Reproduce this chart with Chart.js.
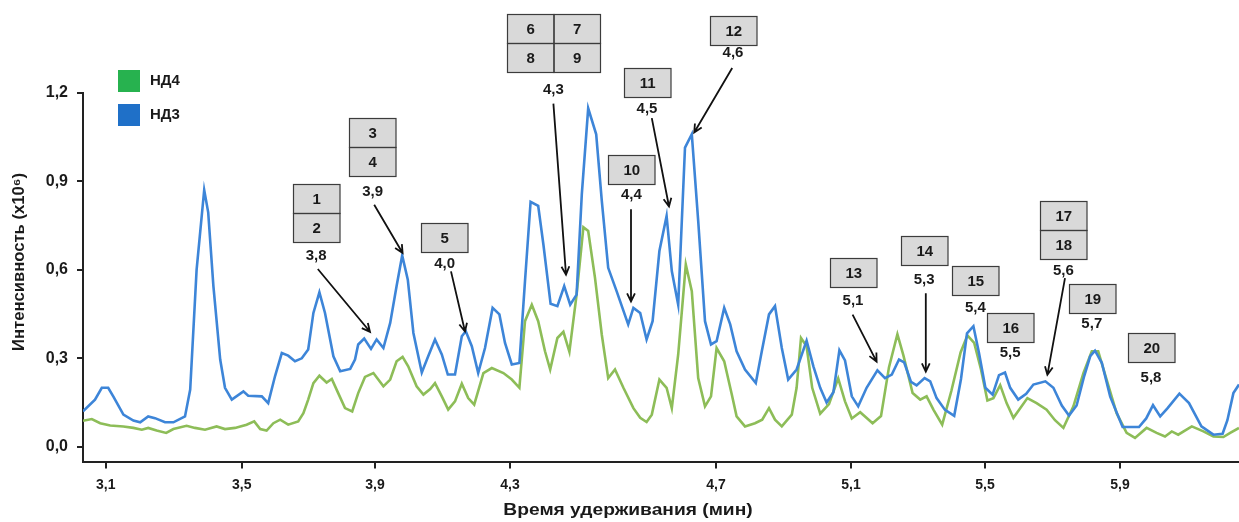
<!DOCTYPE html>
<html lang="ru">
<head>
<meta charset="UTF-8" />
<title>НД3 / НД4</title>
<script src="https://cdn.jsdelivr.net/npm/chart.js"></script>
<style>
  html, body { margin: 0; padding: 0; background: #fff; }
</style>
</head>
<body>
<canvas id="chrom" width="1239" height="522"></canvas>
<script>
  // traces: [scan, intensity x10^6]
  const nd3 = [[0,0.12],[3,0.16],[4.7,0.20],[6.3,0.20],[7.6,0.17],[10.1,0.109],[12.6,0.089],[14.3,0.083],[16.3,0.103],[18,0.097],
    [20.5,0.083],[22.6,0.083],[25.5,0.103],[26.8,0.194],[28.4,0.60],[30.3,0.871],[31.3,0.795],[32.6,0.545],[34.3,0.296],[35.5,0.20],
    [37.2,0.16],[40.1,0.188],[41.3,0.173],[44.7,0.171],[46.3,0.148],[48,0.239],[49.7,0.318],[51.3,0.309],[53,0.29],[54.7,0.30],
    [56.3,0.33],[57.6,0.454],[59.1,0.524],[60.5,0.454],[62.6,0.307],[64.3,0.256],[66.8,0.264],[68,0.296],[68.8,0.347],[70.3,0.367],
    [72,0.332],[73.4,0.364],[75.1,0.335],[76.8,0.42],[78.4,0.545],[79.8,0.649],[81.2,0.567],[82.6,0.386],[84.7,0.252],[86.3,0.307],
    [88,0.364],[89.7,0.313],[91.2,0.245],[93,0.245],[94.7,0.375],[95.7,0.392],[97.2,0.341],[98.8,0.25],[100.5,0.335],[102.4,0.471],
    [104.1,0.449],[105.5,0.352],[107.2,0.279],[109.1,0.284],[110.5,0.562],[111.9,0.831],[113.8,0.817],[115.1,0.686],[116.9,0.485],[118.6,0.477],
    [120.3,0.545],[121.8,0.482],[123.4,0.516],[124.7,0.856],[126.3,1.148],[128.3,1.06],[129.7,0.834],[131.3,0.607],[133.4,0.528],[136.3,0.415],
    [137.6,0.471],[139.3,0.454],[140.9,0.364],[142.4,0.426],[144.1,0.664],[145.9,0.783],[147.2,0.596],[148.8,0.482],[150.5,1.015],[152.2,1.06],
    [153.8,0.766],[155.5,0.426],[157,0.347],[158.4,0.358],[160.3,0.471],[161.8,0.415],[163.4,0.324],[165.5,0.262],[168.2,0.216],[169.7,0.324],
    [171.5,0.449],[173,0.477],[174.7,0.335],[176.3,0.228],[178.4,0.262],[180.9,0.36],[182.6,0.273],[184.3,0.20],[185.9,0.15],[187.6,0.185],
    [189.1,0.327],[190.5,0.293],[192.2,0.171],[193.8,0.137],[195.9,0.20],[198.6,0.259],[200.5,0.233],[202.2,0.245],[204,0.296],[205.3,0.286],
    [207,0.22],[208.4,0.208],[210.4,0.233],[211.8,0.222],[213.4,0.165],[215.5,0.125],[217.8,0.105],[219.5,0.23],[221,0.385],[222.6,0.409],
    [224,0.318],[225.6,0.2],[227.4,0.177],[229,0.243],[230.5,0.252],[231.8,0.2],[233.8,0.16],[235.8,0.18],[237.6,0.211],[240.6,0.222],
    [242.6,0.2],[244.7,0.14],[246.5,0.106],[248.4,0.14],[250.3,0.24],[251.8,0.307],[253,0.326],[254.7,0.285],[256.8,0.17],[259.9,0.067],
    [264,0.067],[265.8,0.096],[267.5,0.141],[269.3,0.103],[271.1,0.13],[274.1,0.18],[276.5,0.148],[279.6,0.069],[282.6,0.041],[284.9,0.044],
    [286.1,0.09],[287.6,0.182],[289,0.211]];

  const nd4 = [[0,0.088],[2.2,0.094],[4.3,0.08],[6.8,0.072],[10.1,0.069],[12.6,0.064],[14.7,0.058],[16.3,0.064],[18.4,0.055],[20.8,0.047],
    [22.6,0.06],[25.9,0.071],[28,0.064],[30.5,0.058],[33.4,0.069],[35.5,0.06],[38,0.064],[40.9,0.075],[42.8,0.086],[44.3,0.06],
    [45.9,0.055],[47.6,0.08],[49.3,0.092],[51.3,0.075],[53.8,0.086],[55.1,0.114],[56.3,0.16],[57.6,0.216],[59.1,0.241],[60.9,0.218],
    [62.2,0.23],[63.8,0.182],[65.5,0.131],[67.3,0.12],[68.8,0.182],[70.5,0.237],[72.6,0.25],[75.1,0.205],[76.8,0.228],[78.4,0.29],
    [79.9,0.305],[81.3,0.273],[83.4,0.205],[85.1,0.177],[86.8,0.196],[88,0.216],[89.7,0.171],[91.3,0.126],[93,0.154],[94.7,0.214],
    [96.3,0.165],[97.8,0.143],[100.1,0.25],[102.2,0.267],[105.1,0.25],[107.2,0.228],[109.1,0.2],[110.5,0.426],[112.2,0.482],[113.8,0.426],
    [115.5,0.324],[116.8,0.262],[118.6,0.369],[120.1,0.39],[121.6,0.322],[123.4,0.516],[125.1,0.745],[126.3,0.732],[128,0.573],[129.7,0.38],
    [131.3,0.233],[133,0.262],[135.1,0.2],[137.6,0.131],[139.3,0.098],[140.9,0.084],[142.2,0.109],[144.1,0.228],[145.9,0.2],[147.2,0.131],
    [148.8,0.313],[150.7,0.618],[152.2,0.528],[153.8,0.233],[155.5,0.137],[157,0.171],[158.4,0.335],[160.3,0.29],[162.2,0.177],[163.4,0.103],
    [165.5,0.069],[168,0.08],[169.8,0.092],[171.5,0.131],[173,0.092],[174.7,0.069],[177.2,0.109],[178.4,0.2],[179.5,0.369],[180.9,0.341],
    [182.3,0.2],[184.3,0.112],[186.5,0.145],[188.8,0.232],[190.5,0.154],[192.2,0.096],[194.3,0.117],[197.4,0.08],[199.5,0.104],[201.5,0.27],
    [203.6,0.382],[205.1,0.31],[207.4,0.182],[209.3,0.16],[210.9,0.171],[212.6,0.126],[214.8,0.075],[217.1,0.19],[219.4,0.32],[221.1,0.378],
    [222.8,0.352],[224.5,0.262],[226.1,0.157],[227.6,0.165],[229.3,0.209],[230.9,0.148],[232.6,0.098],[236.1,0.165],[238.4,0.148],[240.9,0.126],
    [243,0.09],[245.1,0.064],[247.6,0.137],[250.1,0.25],[252.2,0.324],[253.8,0.324],[255.9,0.228],[258.4,0.114],[260.9,0.047],[263,0.03],
    [265.9,0.064],[268.4,0.047],[270.5,0.035],[272.2,0.052],[273.8,0.041],[277.2,0.069],[280.1,0.052],[282.6,0.035],[285.1,0.033],[286.8,0.047],
    [289,0.064]];

  // axis ticks (retention time labels sit at these scans)
  const xTickScan = [5.7, 39.7, 73, 106.75, 158.25, 192, 225.5, 259.25];
  const xTickLabels = ['3,1', '3,5', '3,9', '4,3', '4,7', '5,1', '5,5', '5,9'];
  const yTickValues = [0, 0.3, 0.6, 0.9, 1.2];
  const yTickLabels = ['0,0', '0,3', '0,6', '0,9', '1,2'];

  // peak numbers (rows of cells) and their retention times
  const peakIds = [
    [['1'], ['2']], [['3'], ['4']], [['5']], [['6', '7'], ['8', '9']], [['10']], [['11']], [['12']],
    [['13']], [['14']], [['15']], [['16']], [['17'], ['18']], [['19']], [['20']]
  ];
  const peakTimes = ['3,8', '3,9', '4,0', '4,3', '4,4', '4,5', '4,6', '5,1', '5,3', '5,4', '5,5', '5,6', '5,7', '5,8'];

  // where each peak label goes, in scan / intensity units
  const peakPlaces = [
    { x: 58.3, top: 0.892, cap: 0.648, arrow: [58.7, 0.603, 71.75, 0.39] },
    { x: 72.4, top: 1.114, cap: 0.866, arrow: [72.8, 0.821, 79.9, 0.657] },
    { x: 90.4, top: 0.758, cap: 0.621, arrow: [92, 0.595, 95.5, 0.391] },
    { x: 117.6, top: 1.468, cap: 1.211, arrow: [117.6, 1.164, 120.75, 0.584] },
    { x: 137.1, top: 0.99, cap: 0.855, arrow: [137, 0.806, 137, 0.493] },
    { x: 141, top: 1.285, cap: 1.146, arrow: [142.2, 1.115, 146.5, 0.815] },
    { x: 162.5, top: 1.462, cap: 1.336, arrow: [162.3, 1.285, 152.8, 1.066] },
    { x: 192.5, top: 0.64, cap: 0.496, arrow: [192.4, 0.448, 198.4, 0.289] },
    { x: 210.3, top: 0.716, cap: 0.567, arrow: [210.7, 0.521, 210.7, 0.255] },
    { x: 223.1, top: 0.614, cap: 0.471 },
    { x: 231.8, top: 0.454, cap: 0.318 },
    { x: 245.1, top: 0.835, cap: 0.595, arrow: [245.5, 0.572, 241.1, 0.244] },
    { x: 252.2, top: 0.552, cap: 0.417 },
    { x: 267, top: 0.386, cap: 0.235 }
  ];

  const FONT = '"Liberation Sans", Arial, sans-serif';
  const INK = '#1a1a1a';
  const CELL_W = 46.5, CELL_H = 29;

  function drawArrow(ctx, x0, y0, x1, y1) {
    const a = Math.atan2(y1 - y0, x1 - x0);
    const len = 9, spread = 0.45;
    ctx.beginPath();
    ctx.moveTo(x0, y0);
    ctx.lineTo(x1, y1);
    ctx.moveTo(x1 - len * Math.cos(a - spread), y1 - len * Math.sin(a - spread));
    ctx.lineTo(x1, y1);
    ctx.lineTo(x1 - len * Math.cos(a + spread), y1 - len * Math.sin(a + spread));
    ctx.stroke();
  }

  const peakLabels = {
    id: 'peakLabels',
    afterDatasetsDraw(chart) {
      const { ctx, chartArea, scales: { x, y } } = chart;
      ctx.save();

      // legend
      ctx.font = 'bold 15px ' + FONT;
      ctx.textAlign = 'left';
      ctx.textBaseline = 'middle';
      chart.data.datasets.forEach((ds, i) => {
        const top = chartArea.top - 23 + i * 34;
        ctx.fillStyle = ds.legendColor;
        ctx.fillRect(chartArea.left + 35, top, 22, 22);
        ctx.fillStyle = INK;
        ctx.fillText(ds.label, chartArea.left + 67, top + 11);
      });

      peakPlaces.forEach((p, i) => {
        const rows = peakIds[i];
        const cols = rows[0].length;
        const w = cols * CELL_W;
        const left = Math.round(x.getPixelForValue(p.x) - w / 2) + 0.5;
        const top = Math.round(y.getPixelForValue(p.top)) + 0.5;

        ctx.fillStyle = '#d9d9d9';
        ctx.fillRect(left, top, w, rows.length * CELL_H);
        ctx.strokeStyle = '#3c3c3c';
        ctx.lineWidth = 1.2;
        ctx.font = 'bold 15px ' + FONT;
        ctx.textAlign = 'center';
        rows.forEach((row, r) => {
          row.forEach((id, c) => {
            const cx = left + c * CELL_W, cy = top + r * CELL_H;
            ctx.strokeRect(cx, cy, CELL_W, CELL_H);
            ctx.fillStyle = INK;
            ctx.fillText(id, cx + CELL_W / 2, cy + CELL_H / 2 + 1);
          });
        });

        ctx.fillStyle = INK;
        ctx.fillText(peakTimes[i], x.getPixelForValue(p.x), y.getPixelForValue(p.cap));

        if (p.arrow) {
          const [ax0, ay0, ax1, ay1] = p.arrow;
          ctx.strokeStyle = '#111';
          ctx.lineWidth = 1.8;
          drawArrow(ctx,
            x.getPixelForValue(ax0), y.getPixelForValue(ay0),
            x.getPixelForValue(ax1), y.getPixelForValue(ay1));
        }
      });

      // axis titles (the time title is set in a wide face, so stretch it)
      ctx.fillStyle = INK;
      ctx.textAlign = 'center';
      ctx.textBaseline = 'middle';
      ctx.font = 'bold 16px ' + FONT;
      ctx.save();
      ctx.translate(628, 511);
      ctx.scale(1.2, 1);
      ctx.fillText('Время удерживания (мин)', 0, 0);
      ctx.restore();
      ctx.save();
      ctx.translate(20, 262);
      ctx.rotate(-Math.PI / 2);
      ctx.scale(1.04, 1);
      ctx.fillText('Интенсивность (x10⁶)', 0, 0);
      ctx.restore();

      ctx.restore();
    }
  };

  new Chart(document.getElementById('chrom'), {
    type: 'line',
    data: {
      datasets: [
        {
          label: 'НД4',
          data: nd4.map(([s, v]) => ({ x: s, y: v })),
          borderColor: '#8dbd58',
          legendColor: '#27b24f',
          borderWidth: 2.6,
          pointRadius: 0,
          tension: 0,
          order: 2
        },
        {
          label: 'НД3',
          data: nd3.map(([s, v]) => ({ x: s, y: v })),
          borderColor: '#3d85d8',
          legendColor: '#1f70c8',
          borderWidth: 2.6,
          pointRadius: 0,
          tension: 0,
          order: 1
        }
      ]
    },
    options: {
      responsive: false,
      animation: false,
      layout: { padding: { top: 93, left: 0, right: 0, bottom: 0 } },
      plugins: { legend: { display: false }, tooltip: { enabled: false } },
      scales: {
        x: {
          type: 'linear',
          min: 0,
          max: 289,
          afterFit: s => { s.height = 60.5; },
          afterBuildTicks: s => { s.ticks = xTickScan.map(v => ({ value: v })); },
          ticks: {
            callback: (v, i) => xTickLabels[i],
            font: { family: FONT, size: 14, weight: 'bold' },
            color: INK,
            padding: 8,
            maxRotation: 0,
            autoSkip: false
          },
          grid: { drawOnChartArea: false, tickLength: 7, color: '#222', lineWidth: 2 },
          border: { color: '#222', width: 2 }
        },
        y: {
          min: -0.05,
          max: 1.2,
          afterFit: s => { s.width = 83; },
          afterBuildTicks: s => { s.ticks = yTickValues.map(v => ({ value: v })); },
          ticks: {
            callback: (v, i) => yTickLabels[i],
            font: { family: FONT, size: 16, weight: 'bold' },
            color: INK,
            padding: 9
          },
          grid: { drawOnChartArea: false, tickLength: 6, color: '#222', lineWidth: 2 },
          border: { color: '#222', width: 2 }
        }
      }
    },
    plugins: [peakLabels]
  });
</script>
</body>
</html>
